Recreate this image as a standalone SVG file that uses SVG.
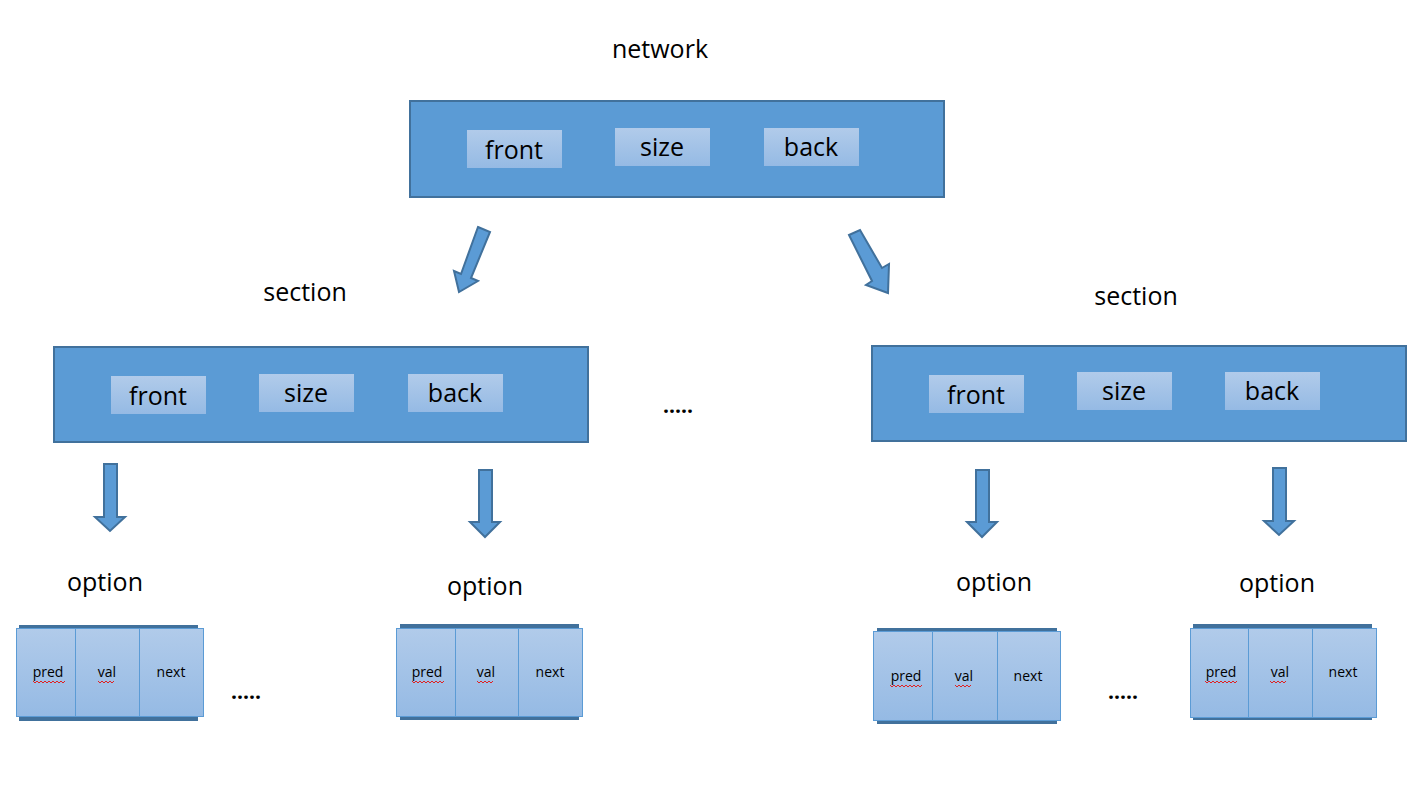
<svg xmlns="http://www.w3.org/2000/svg" width="1421" height="787" viewBox="0 0 1421 787">
<defs>
<linearGradient id="g" x1="0" y1="0" x2="0" y2="1">
<stop offset="0" stop-color="#B1CBEA"/>
<stop offset="1" stop-color="#95BAE4"/>
</linearGradient>
<style>
.big{fill:#5B9BD5;stroke:#41719C;stroke-width:2}
.inner{fill:url(#g)}
.t{font-family:"Open Sans","Noto Sans","DejaVu Sans",sans-serif;fill:#000;text-anchor:middle}
.lbl{font-size:25px}
.in{font-size:25px}
.sm{font-size:14px}
.dots{font-size:21px;font-weight:bold}
.arr{fill:#5B9BD5;stroke:#41719C;stroke-width:2;stroke-linejoin:miter}
.back{fill:#41719C}
.cell{fill:url(#g);stroke:#5B9BD5;stroke-width:1}
.sq{fill:none;stroke:#E02020;stroke-width:1}
</style>
</defs>
<rect width="1421" height="787" fill="#fff"/>

<g id="network">
<text class="t lbl" x="660" y="58">network</text>
<rect class="big" x="410" y="101" width="534" height="96"/>
<rect class="inner" x="467" y="130" width="95" height="38"/>
<text class="t in" x="514" y="159">front</text>
<rect class="inner" x="615" y="128" width="95" height="38"/>
<text class="t in" x="662" y="156">size</text>
<rect class="inner" x="764" y="128" width="95" height="38"/>
<text class="t in" x="811" y="156">back</text>
</g>

<g id="section-left">
<text class="t lbl" x="305" y="301">section</text>
<rect class="big" x="54" y="347" width="534" height="95"/>
<rect class="inner" x="111" y="376" width="95" height="38"/>
<text class="t in" x="158" y="405">front</text>
<rect class="inner" x="259" y="374" width="95" height="38"/>
<text class="t in" x="306" y="402">size</text>
<rect class="inner" x="408" y="374" width="95" height="38"/>
<text class="t in" x="455" y="402">back</text>
</g>

<g id="section-right">
<text class="t lbl" x="1136" y="305">section</text>
<rect class="big" x="872" y="346" width="534" height="95"/>
<rect class="inner" x="929" y="375" width="95" height="38"/>
<text class="t in" x="976" y="404">front</text>
<rect class="inner" x="1077" y="372" width="95" height="38"/>
<text class="t in" x="1124" y="400">size</text>
<rect class="inner" x="1225" y="372" width="95" height="38"/>
<text class="t in" x="1272" y="400">back</text>
</g>

<g id="ellipsis-mid"><text class="t dots" x="678" y="413">.....</text></g>

<g id="option-1">
<text class="t lbl" x="105" y="591">option</text>
<rect class="back" x="19" y="625" width="179" height="96"/>
<rect class="cell" x="16.5" y="628.5" width="59" height="88"/>
<rect class="cell" x="75.5" y="628.5" width="64" height="88"/>
<rect class="cell" x="139.5" y="628.5" width="64" height="88"/>
<text class="t sm" x="48" y="677">pred</text>
<text class="t sm" x="107" y="677">val</text>
<text class="t sm" x="171" y="677">next</text>
<path class="sq" d="M33 681 l2 2 l2 -2 l2 2 l2 -2 l2 2 l2 -2 l2 2 l2 -2 l2 2 l2 -2 l2 2 l2 -2 l2 2 l2 -2 l2 2 l2 -2"/>
<path class="sq" d="M98 681 l2 2 l2 -2 l2 2 l2 -2 l2 2 l2 -2 l2 2 l2 -2"/>
</g>
<g id="ellipsis-left"><text class="t dots" x="246" y="699">.....</text></g>

<g id="option-2">
<text class="t lbl" x="485" y="595">option</text>
<rect class="back" x="400" y="624" width="179" height="96"/>
<rect class="cell" x="396.5" y="628.5" width="59" height="88"/>
<rect class="cell" x="455.5" y="628.5" width="63" height="88"/>
<rect class="cell" x="518.5" y="628.5" width="64" height="88"/>
<text class="t sm" x="427" y="677">pred</text>
<text class="t sm" x="486" y="677">val</text>
<text class="t sm" x="550" y="677">next</text>
<path class="sq" d="M412 681 l2 2 l2 -2 l2 2 l2 -2 l2 2 l2 -2 l2 2 l2 -2 l2 2 l2 -2 l2 2 l2 -2 l2 2 l2 -2 l2 2 l2 -2"/>
<path class="sq" d="M477 681 l2 2 l2 -2 l2 2 l2 -2 l2 2 l2 -2 l2 2 l2 -2"/>
</g>

<g id="option-3">
<text class="t lbl" x="994" y="591">option</text>
<rect class="back" x="877" y="628" width="180" height="96"/>
<rect class="cell" x="873.5" y="631.5" width="59" height="89"/>
<rect class="cell" x="932.5" y="631.5" width="65" height="89"/>
<rect class="cell" x="997.5" y="631.5" width="63" height="89"/>
<text class="t sm" x="906" y="681">pred</text>
<text class="t sm" x="964" y="681">val</text>
<text class="t sm" x="1028" y="681">next</text>
<path class="sq" d="M890 685 l2 2 l2 -2 l2 2 l2 -2 l2 2 l2 -2 l2 2 l2 -2 l2 2 l2 -2 l2 2 l2 -2 l2 2 l2 -2 l2 2 l2 -2"/>
<path class="sq" d="M955 685 l2 2 l2 -2 l2 2 l2 -2 l2 2 l2 -2 l2 2 l2 -2"/>
</g>
<g id="ellipsis-right"><text class="t dots" x="1123" y="699">.....</text></g>

<g id="option-4">
<text class="t lbl" x="1277" y="592">option</text>
<rect class="back" x="1193" y="624" width="179" height="96"/>
<rect class="cell" x="1190.5" y="628.5" width="58" height="89"/>
<rect class="cell" x="1248.5" y="628.5" width="64" height="89"/>
<rect class="cell" x="1312.5" y="628.5" width="64" height="89"/>
<text class="t sm" x="1221" y="677">pred</text>
<text class="t sm" x="1280" y="677">val</text>
<text class="t sm" x="1343" y="677">next</text>
<path class="sq" d="M1205 681 l2 2 l2 -2 l2 2 l2 -2 l2 2 l2 -2 l2 2 l2 -2 l2 2 l2 -2 l2 2 l2 -2 l2 2 l2 -2 l2 2 l2 -2"/>
<path class="sq" d="M1270 681 l2 2 l2 -2 l2 2 l2 -2 l2 2 l2 -2 l2 2 l2 -2"/>
</g>

<g id="connectors">
<path class="arr" d="M478 227 L490 232 L471 278 L478 281 L459 292 L454 271 L461 274 Z"/>
<path class="arr" d="M849 235 L860 230 L882 268 L889 264 L888 293 L866 285 L872 281 Z"/>
<path class="arr" d="M104 464 H117 V517 H125 L110 531 L95 517 H104 Z"/>
<path class="arr" d="M479 470 H492 V522 H500 L485 537 L470 522 H479 Z"/>
<path class="arr" d="M976 470 H989 V522 H997 L982 537 L967 522 H976 Z"/>
<path class="arr" d="M1273 468 H1286 V521 H1294 L1279 535 L1264 521 H1273 Z"/>
</g>
</svg>
